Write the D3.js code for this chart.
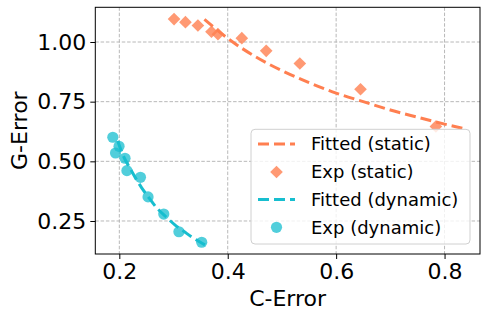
<!DOCTYPE html>
<html>
<head>
<meta charset="utf-8">
<script src="https://cdn.jsdelivr.net/npm/d3@7"></script>
<style>
  html, body { margin: 0; padding: 0; background: #fff; }
  svg { display: block; font-family: "DejaVu Sans", sans-serif; }
</style>
</head>
<body>
<svg id="chart" width="488" height="320"></svg>
<script>
// ---- data ----
const staticExpX = [0.301, 0.322, 0.345, 0.370, 0.382, 0.426, 0.471, 0.533, 0.645, 0.784];
const staticExpY = [1.096, 1.083, 1.069, 1.043, 1.033, 1.016, 0.963, 0.910, 0.802, 0.646];
const staticFitX = [0.357, 0.40, 0.45, 0.50, 0.55, 0.60, 0.65, 0.70, 0.75, 0.80, 0.834];
const staticFitY = [1.095, 1.015, 0.940, 0.880, 0.830, 0.786, 0.750, 0.715, 0.685, 0.656, 0.638];
const dynExpX = [0.188, 0.1995, 0.193, 0.2105, 0.214, 0.239, 0.253, 0.282, 0.310, 0.352];
const dynExpY = [0.601, 0.563, 0.535, 0.513, 0.461, 0.433, 0.351, 0.279, 0.205, 0.161];
const dynFitX = [0.197, 0.209, 0.220, 0.232, 0.241, 0.253, 0.269, 0.285, 0.303, 0.320, 0.333, 0.358];
const dynFitY = [0.585, 0.515, 0.470, 0.422, 0.390, 0.352, 0.305, 0.270, 0.233, 0.205, 0.184, 0.150];
const xTicks = [0.2, 0.4, 0.6, 0.8];
const yTicks = [0.25, 0.50, 0.75, 1.00];
const legendLabels = ["Fitted (static)", "Exp (static)", "Fitted (dynamic)", "Exp (dynamic)"];
const xDomain = [0.1557, 0.8654];
const yDomain = [0.1117, 1.1454];

const colStatic = "#FF7F50";
const colDyn = "#17BECF";

const svg = d3.select("#chart");
const m = { left: 95.3, right: 480, top: 7.3, bottom: 254 };
const x = d3.scaleLinear().domain(xDomain).range([m.left, m.right]);
const y = d3.scaleLinear().domain(yDomain).range([m.bottom, m.top]);

const zip = (a, b) => a.map((v, i) => [v, b[i]]);

// grid
const grid = svg.append("g");
grid.selectAll("line.vx").data(xTicks).enter().append("line")
  .attr("x1", d => x(d)).attr("x2", d => x(d)).attr("y1", m.top).attr("y2", m.bottom)
  .attr("stroke", "#b0b0b0").attr("stroke-width", 0.9).attr("stroke-dasharray", "3.5,1.8");
grid.selectAll("line.hy").data(yTicks).enter().append("line")
  .attr("y1", d => y(d)).attr("y2", d => y(d)).attr("x1", m.left).attr("x2", m.right)
  .attr("stroke", "#b0b0b0").attr("stroke-width", 0.9).attr("stroke-dasharray", "3.5,1.8");

// axes
const xAxis = d3.axisBottom(x).tickValues(xTicks).tickFormat(d3.format(".1f")).tickSize(5).tickPadding(4);
const yAxis = d3.axisLeft(y).tickValues(yTicks).tickFormat(d3.format(".2f")).tickSize(5).tickPadding(4);
const gx = svg.append("g").attr("transform", `translate(0,${m.bottom})`).call(xAxis);
const gy = svg.append("g").attr("transform", `translate(${m.left},0)`).call(yAxis);
[gx, gy].forEach(g => {
  g.select(".domain").remove();
  g.selectAll("line").attr("stroke", "#000").attr("stroke-width", 1);
  g.selectAll("text").attr("font-family", "DejaVu Sans").attr("font-size", 22).attr("fill", "#000");
});

// frame
svg.append("rect").attr("x", m.left).attr("y", m.top)
  .attr("width", m.right - m.left).attr("height", m.bottom - m.top)
  .attr("fill", "none").attr("stroke", "#000").attr("stroke-width", 1);

const line = d3.line().x(d => x(d[0])).y(d => y(d[1])).curve(d3.curveMonotoneX);

// static fit
svg.append("path").datum(zip(staticFitX, staticFitY)).attr("d", line)
  .attr("fill", "none").attr("stroke", colStatic).attr("stroke-width", 3)
  .attr("stroke-dasharray", "11,5");
// static exp (diamonds)
const diamond = d3.symbol().type(d3.symbolSquare).size(80);
svg.append("g").selectAll("path").data(zip(staticExpX, staticExpY)).enter().append("path")
  .attr("d", diamond)
  .attr("transform", d => `translate(${x(d[0])},${y(d[1])}) rotate(45)`)
  .attr("fill", colStatic).attr("fill-opacity", 0.8);

// dynamic fit
svg.append("path").datum(zip(dynFitX, dynFitY)).attr("d", line)
  .attr("fill", "none").attr("stroke", colDyn).attr("stroke-width", 3)
  .attr("stroke-dasharray", "11,5");
// dynamic exp (circles)
svg.append("g").selectAll("circle").data(zip(dynExpX, dynExpY)).enter().append("circle")
  .attr("cx", d => x(d[0])).attr("cy", d => y(d[1])).attr("r", 5.6)
  .attr("fill", colDyn).attr("fill-opacity", 0.75);

// axis labels
svg.append("text").attr("x", (m.left + m.right) / 2).attr("y", 306)
  .attr("text-anchor", "middle").attr("font-size", 22).text("C-Error");
svg.append("text").attr("transform", `translate(27,${(m.top + m.bottom) / 2}) rotate(-90)`)
  .attr("text-anchor", "middle").attr("font-size", 22).text("G-Error");

// legend
const lg = svg.append("g");
lg.append("rect").attr("x", 251).attr("y", 129.3).attr("width", 219).attr("height", 114.7)
  .attr("rx", 4).attr("fill", "#fff").attr("fill-opacity", 0.8)
  .attr("stroke", "#d0d0d0").attr("stroke-width", 1);
const rowY = [144, 172, 199.5, 227.3];
legendLabels.forEach((lab, i) => {
  const cy = rowY[i];
  const col = i < 2 ? colStatic : colDyn;
  if (i % 2 === 0) {
    lg.append("line").attr("x1", 258).attr("x2", 295).attr("y1", cy).attr("y2", cy)
      .attr("stroke", col).attr("stroke-width", 3).attr("stroke-dasharray", "11,5");
  } else if (i === 1) {
    lg.append("path").attr("d", diamond).attr("transform", `translate(276.5,${cy}) rotate(45)`)
      .attr("fill", col).attr("fill-opacity", 0.8);
  } else {
    lg.append("circle").attr("cx", 276.5).attr("cy", cy).attr("r", 5.6)
      .attr("fill", col).attr("fill-opacity", 0.75);
  }
  lg.append("text").attr("x", 311).attr("y", cy).attr("dy", "0.35em")
    .attr("font-size", 18).text(lab);
});
</script>
</body>
</html>
